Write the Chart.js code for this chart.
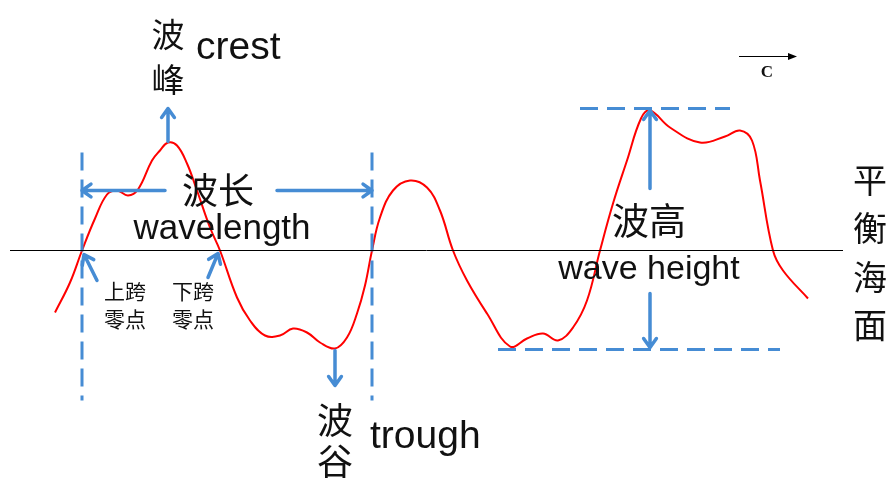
<!DOCTYPE html>
<html>
<head>
<meta charset="utf-8">
<script src="https://cdn.jsdelivr.net/npm/chart.js@4.4.0/dist/chart.umd.min.js"></script>
<style>
  html, body { margin: 0; padding: 0; background: #fff; }
  #wrap { width: 892px; height: 481px; }
</style>
</head>
<body>
<div id="wrap"><canvas id="waveChart" width="892" height="481"></canvas></div>
<script>
// position along the profile, and surface elevation above mean sea level
const waveX = [55, 70, 82, 95, 107, 117, 128, 138, 152, 160, 168, 177, 187, 197, 210, 220, 237, 250, 265, 280, 293, 307, 320, 335, 347, 357, 365, 372, 380, 393, 410, 427, 440, 453, 467, 487, 510, 527, 543, 558, 573, 587, 600, 613, 627, 641, 650, 670, 700, 725, 740, 752, 760, 773, 783, 808];
const waveY = [-62, -32, 0, 32, 56, 60, 55, 61, 90, 100, 108, 105, 87, 60, 23, 0, -47, -70, -85, -85, -78, -82, -92, -98, -87, -63, -35, 0, 33, 60, 70, 63, 40, 0, -30, -63, -96, -88, -83, -90, -77, -50, 0, 47, 90, 132, 140, 123, 108, 114, 120, 110, 70, 0, -20, -48];

const seaLevelX = [10, 843];
const seaLevelY = [0, 0];

// dashed guides: wavelength bounds, crest and trough levels
const boundLeftX = [82, 82];
const boundRightX = [372, 372];
const boundY = [98, -150];
const crestLevelX = [580, 730];
const crestLevelY = [142, 142];
const troughLevelX = [498, 780];
const troughLevelY = [-99, -99];

const BLUE = 'rgb(70,140,212)';
const CJK = '"Noto Sans CJK SC"';
const LATIN = '"Liberation Sans", Arial';

function pts(xs, ys) {
  return xs.map((x, i) => ({ x: x, y: ys[i] }));
}

function arrow(ctx, x1, y1, x2, y2) {
  const a = Math.atan2(y2 - y1, x2 - x1);
  const head = 11;
  ctx.save();
  ctx.strokeStyle = BLUE;
  ctx.lineWidth = 3.5;
  ctx.lineCap = 'round';
  ctx.lineJoin = 'round';
  ctx.beginPath();
  ctx.moveTo(x1, y1);
  ctx.lineTo(x2 - 1.5 * Math.cos(a), y2 - 1.5 * Math.sin(a));
  ctx.moveTo(x2 - head * Math.cos(a - 0.62), y2 - head * Math.sin(a - 0.62));
  ctx.lineTo(x2, y2);
  ctx.lineTo(x2 - head * Math.cos(a + 0.62), y2 - head * Math.sin(a + 0.62));
  ctx.stroke();
  ctx.restore();
}

const annotations = {
  id: 'annotations',
  afterDatasetsDraw(chart) {
    const ctx = chart.ctx;
    const sx = chart.scales.x, sy = chart.scales.y;
    const X = v => sx.getPixelForValue(v);
    const Y = v => sy.getPixelForValue(v);

    // blue arrows
    const arrows = [
      [168, 109, 168, 142],    // crest up
      [165, 60, 82, 60],       // wavelength left
      [277, 60, 372, 60],      // wavelength right
      [97, -30, 84, -4],       // up-crossing
      [208, -27, 218, -3],     // down-crossing
      [335, -100, 335, -135],  // trough down
      [650, 62, 650, 140],     // height up
      [650, -43, 650, -97]     // height down
    ];
    arrows.forEach(a => arrow(ctx, X(a[0]), Y(a[1]), X(a[2]), Y(a[3])));

    // propagation direction
    ctx.save();
    ctx.strokeStyle = '#000';
    ctx.fillStyle = '#000';
    ctx.lineWidth = 1.2;
    ctx.beginPath();
    ctx.moveTo(X(739), Y(194));
    ctx.lineTo(X(790), Y(194));
    ctx.stroke();
    ctx.beginPath();
    ctx.moveTo(X(797), Y(194));
    ctx.lineTo(X(788), Y(197.5));
    ctx.lineTo(X(788), Y(190.5));
    ctx.closePath();
    ctx.fill();
    ctx.restore();

    const labels = [
      ['波', 168, 216, 'center', 'middle', '33px ' + CJK],
      ['峰', 168, 171, 'center', 'middle', '33px ' + CJK],
      ['crest', 196, 192, 'left', 'alphabetic', '39px ' + LATIN],
      ['波长', 218, 60, 'center', 'middle', '36px ' + CJK],
      ['wavelength', 222, 12, 'center', 'alphabetic', '35px ' + LATIN],
      ['上跨', 125, -41, 'center', 'middle', '21px ' + CJK],
      ['零点', 125, -69, 'center', 'middle', '21px ' + CJK],
      ['下跨', 193, -41, 'center', 'middle', '21px ' + CJK],
      ['零点', 193, -69, 'center', 'middle', '21px ' + CJK],
      ['波', 335, -170, 'center', 'middle', '36px ' + CJK],
      ['谷', 335, -211, 'center', 'middle', '36px ' + CJK],
      ['trough', 370, -197, 'left', 'alphabetic', '39px ' + LATIN],
      ['波高', 649, 30, 'center', 'middle', '37px ' + CJK],
      ['wave height', 649, -28, 'center', 'alphabetic', '34px ' + LATIN],
      ['平', 870, 70, 'center', 'middle', '34px ' + CJK],
      ['衡', 870, 22, 'center', 'middle', '34px ' + CJK],
      ['海', 870, -27, 'center', 'middle', '34px ' + CJK],
      ['面', 870, -75, 'center', 'middle', '34px ' + CJK],
      ['C', 767, 178, 'center', 'middle', 'bold 17px "Liberation Serif", serif']
    ];
    ctx.save();
    ctx.fillStyle = '#111';
    labels.forEach(l => {
      ctx.font = l[5];
      ctx.textAlign = l[3];
      ctx.textBaseline = l[4];
      ctx.fillText(l[0], X(l[1]), Y(l[2]));
    });
    ctx.restore();
  }
};

const guide = (data) => ({
  data: data,
  borderColor: BLUE,
  borderWidth: 3,
  borderDash: [18, 9],
  pointRadius: 0,
  tension: 0,
  clip: false
});

new Chart(document.getElementById('waveChart'), {
  type: 'line',
  data: {
    datasets: [
      { data: pts(seaLevelX, seaLevelY), borderColor: '#000', borderWidth: 1, pointRadius: 0, tension: 0, clip: false },
      guide(pts(boundLeftX, boundY)),
      guide(pts(boundRightX, boundY)),
      guide(pts(crestLevelX, crestLevelY)),
      guide(pts(troughLevelX, troughLevelY)),
      { data: pts(waveX, waveY), borderColor: '#ff0000', borderWidth: 2, pointRadius: 0, tension: 0.4, clip: false }
    ]
  },
  options: {
    responsive: false,
    animation: false,
    layout: { padding: 0 },
    plugins: { legend: { display: false }, tooltip: { enabled: false } },
    scales: {
      x: { type: 'linear', min: 0, max: 892, display: false },
      y: { type: 'linear', min: -230.5, max: 250.5, display: false }
    }
  },
  plugins: [annotations]
});
</script>
</body>
</html>
